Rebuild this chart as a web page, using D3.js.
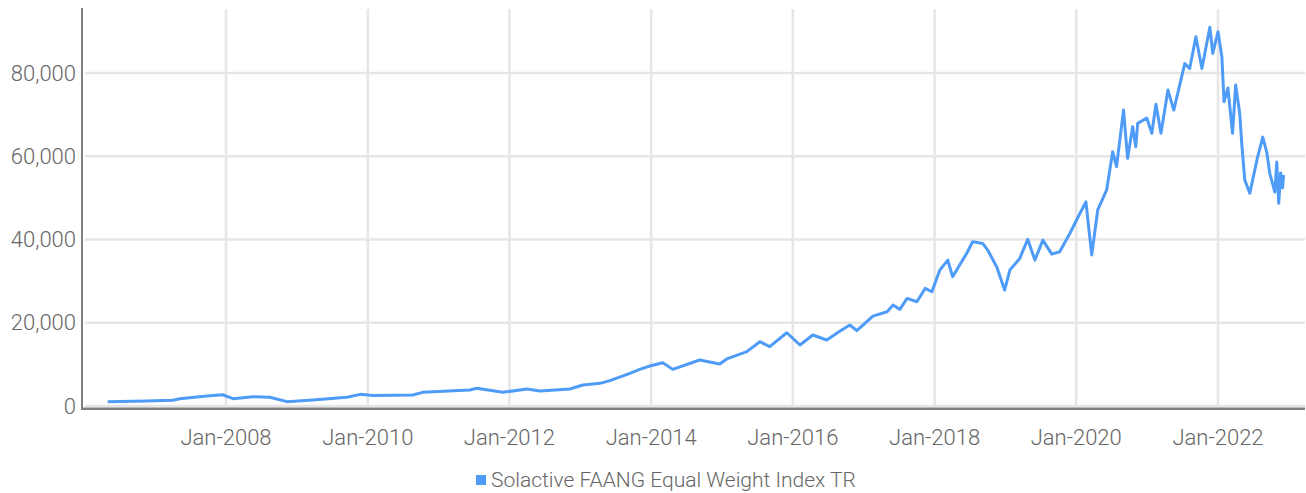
<!DOCTYPE html>
<html>
<head>
<meta charset="utf-8">
<script src="https://cdn.jsdelivr.net/npm/d3@7"></script>
<style>
  body { margin: 0; background: #fff; }
  text { font-family: Roboto, "Liberation Sans", sans-serif; font-weight: 300; fill: #666; }
</style>
</head>
<body>
<div id="chart"></div>
<script>
// series
const dates = [
  "2006-05-01","2006-11-19","2007-04-01","2007-05-08","2007-09-24","2007-12-15",
  "2008-02-06","2008-05-19","2008-08-14","2008-11-10","2009-03-24","2009-09-16",
  "2009-11-22","2010-01-28","2010-08-21","2010-10-11","2011-06-11","2011-07-17",
  "2011-11-28","2012-04-01","2012-06-07","2012-11-08","2013-01-14","2013-04-12",
  "2013-06-02","2013-09-13","2013-11-03","2013-12-25","2014-03-02","2014-04-22",
  "2014-09-08","2014-12-20","2015-01-26","2015-05-09","2015-07-15","2015-09-04",
  "2015-12-01","2016-02-07","2016-04-13","2016-06-24","2016-08-30","2016-10-21",
  "2016-11-26","2017-02-17","2017-05-01","2017-06-01","2017-07-06","2017-08-12",
  "2017-10-02","2017-11-13","2017-12-18","2018-01-28","2018-03-10","2018-04-04",
  "2018-06-15","2018-07-16","2018-09-06","2018-10-02","2018-11-17","2018-12-28",
  "2019-01-24","2019-03-16","2019-04-26","2019-06-02","2019-07-13","2019-08-28",
  "2019-10-08","2019-11-29","2020-01-20","2020-02-20","2020-03-21","2020-04-21",
  "2020-06-06","2020-07-07","2020-07-27","2020-09-01","2020-09-22","2020-10-18",
  "2020-11-03","2020-11-13","2020-12-30","2021-01-25","2021-02-15","2021-03-13",
  "2021-04-18","2021-05-18","2021-07-14","2021-08-08","2021-09-09","2021-10-10",
  "2021-11-20","2021-12-05","2022-01-01","2022-01-21","2022-02-01","2022-02-21",
  "2022-03-17","2022-04-02","2022-04-23","2022-05-04","2022-05-19","2022-06-14",
  "2022-07-24","2022-08-20","2022-09-10","2022-09-25","2022-10-21","2022-10-31",
  "2022-11-10","2022-11-20","2022-11-30","2022-12-05"
];
const values = [
  1000,1200,1400,1750,2400,2700,
  1750,2250,2100,1050,1450,2100,
  2800,2550,2640,3280,3840,4250,
  3280,4080,3600,4080,5040,5440,
  6090,7850,8800,9600,10400,8800,
  11050,10100,11300,13050,15450,14250,
  17600,14650,17050,15850,17950,19450,
  18100,21600,22650,24250,23200,25850,
  25050,28250,27450,32650,35050,31050,
  36650,39450,39050,37450,33450,27850,
  32650,35450,40050,35050,39850,36500,
  37050,41450,46250,49050,36300,47100,
  51900,61100,57500,71100,59500,67100,
  62300,67900,69200,65500,72500,65500,
  75900,71100,82300,81100,88700,81100,
  91000,84700,89900,83900,73100,76400,
  65500,77100,70300,62700,54300,51100,
  59800,64600,60800,55900,51400,58600,
  48700,56000,52400,55500
];
const yTicks = [0, 20000, 40000, 60000, 80000];
const xTickYears = [2008, 2010, 2012, 2014, 2016, 2018, 2020, 2022];
const seriesName = "Solactive FAANG Equal Weight Index TR";

const width = 1306, height = 493;
const plotLeft = 82, plotRight = 1305, plotTop = 8, plotBottom = 406;
const color = "#4f9bf8";

const parse = d3.timeParse("%Y-%m-%d");
const data = dates.map((d, i) => ({ date: parse(d), value: values[i] }));

const x = d3.scaleTime()
  .domain([new Date(2008, 0, 1), new Date(2022, 0, 1)])
  .range([226, 1218]);
const y = d3.scaleLinear()
  .domain([0, 80000])
  .range([plotBottom, 73]);

const svg = d3.select("#chart").append("svg")
  .attr("width", width)
  .attr("height", height);

// grid
svg.append("g")
  .selectAll("line")
  .data(yTicks)
  .join("line")
  .attr("x1", plotLeft + 3).attr("x2", plotRight)
  .attr("y1", d => y(d)).attr("y2", d => y(d))
  .attr("stroke", "#e6e6e6").attr("stroke-width", 2.5);

svg.append("g")
  .selectAll("line")
  .data(xTickYears)
  .join("line")
  .attr("x1", d => x(new Date(d, 0, 1))).attr("x2", d => x(new Date(d, 0, 1)))
  .attr("y1", plotTop + 1).attr("y2", plotBottom)
  .attr("stroke", "#e6e6e6").attr("stroke-width", 2.5);

// axes
svg.append("line")
  .attr("x1", plotLeft).attr("x2", plotLeft)
  .attr("y1", plotTop).attr("y2", plotBottom + 4)
  .attr("stroke", "#7f7f7f").attr("stroke-width", 2);
svg.append("line")
  .attr("x1", plotLeft).attr("x2", plotRight)
  .attr("y1", plotBottom + 2.8).attr("y2", plotBottom + 2.8)
  .attr("stroke", "#7f7f7f").attr("stroke-width", 2.5);

// tick labels
svg.append("g")
  .selectAll("text")
  .data(yTicks)
  .join("text")
  .attr("x", 76)
  .attr("y", d => y(d))
  .attr("dy", "0.35em")
  .attr("text-anchor", "end")
  .style("font-size", "22px")
  .text(d => d3.format(",")(d));

svg.append("g")
  .selectAll("text")
  .data(xTickYears)
  .join("text")
  .attr("x", d => x(new Date(d, 0, 1)))
  .attr("y", 445)
  .attr("text-anchor", "middle")
  .style("font-size", "22px")
  .text(d => "Jan-" + d);

// line
svg.append("path")
  .datum(data)
  .attr("fill", "none")
  .attr("stroke", color)
  .attr("stroke-width", 3)
  .attr("stroke-linejoin", "round")
  .attr("d", d3.line().x(d => x(d.date)).y(d => y(d.value)));

// legend
const legend = svg.append("g");
legend.append("rect")
  .attr("x", 476).attr("y", 475)
  .attr("width", 10).attr("height", 10)
  .attr("fill", color);
legend.append("text")
  .attr("x", 491).attr("y", 487)
  .style("font-size", "21px")
  .text(seriesName);
</script>
</body>
</html>
